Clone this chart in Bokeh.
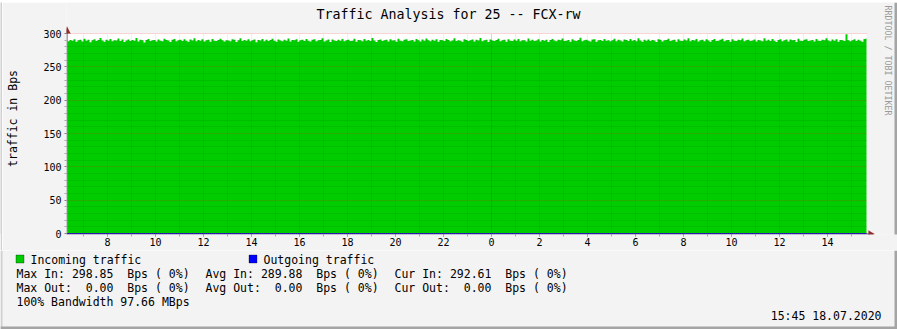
import math
from bokeh.plotting import figure
from bokeh.layouts import column, row
from bokeh.models import FixedTicker, Label, BoxAnnotation, PolyAnnotation, Range1d, Grid
from bokeh.embed import file_html
from bokeh.resources import INLINE

TITLE = "Traffic Analysis for 25 -- FCX-rw"
Y_LABEL = "traffic in Bps"
WATERMARK = "RRDTOOL / TOBI OETIKER"
TIMESTAMP = "15:45 18.07.2020"

# time in hours relative to 00:00 on 18.07.2020
START_HOUR = -17.0 - 40.0 / 60.0   # 06:20 on 17.07
STEP_HOURS = 5.0 / 60.0            # 5 minute samples

IN_VALUES = [
    288.4, 290.1, 289.2, 291.5, 287.6, 289.9, 290.8, 288.1, 292.3, 289.0, 290.5, 286.9, 289.7, 291.2, 288.8, 290.3, 293.1, 289.4, 287.8, 290.6,
    289.1, 291.8, 288.3, 290.0, 289.6, 292.4, 288.7, 290.9, 287.2, 289.5, 291.0, 288.6, 290.2, 289.3, 293.4, 288.0, 290.7, 289.8, 286.5, 290.4,
    291.6, 288.9, 289.7, 290.3, 287.9, 291.1, 289.2, 288.5, 292.0, 290.1, 289.4, 287.3, 290.8, 291.7, 288.2, 289.9, 290.5, 288.7, 291.3, 289.0,
    287.7, 290.9, 289.5, 292.8, 288.4, 290.2, 289.1, 291.4, 288.0, 289.8, 290.6, 287.5, 291.9, 289.3, 288.6, 290.4, 292.2, 289.7, 288.1, 290.0,
    289.6, 288.3, 291.2, 290.7, 287.4, 289.9, 293.0, 288.8, 290.3, 289.2, 291.5, 288.5, 289.7, 290.9, 287.0, 290.1, 289.4, 291.8, 288.2, 290.6,
    288.9, 290.4, 292.1, 289.0, 287.8, 291.0, 289.5, 288.4, 290.8, 289.3, 292.6, 288.1, 290.2, 289.7, 291.3, 287.6, 289.8, 290.5, 288.7, 291.7,
    289.2, 287.9, 290.6, 291.4, 288.5, 289.9, 290.3, 292.9, 288.0, 289.6, 290.9, 287.2, 291.1, 289.4, 288.8, 290.7, 289.1, 291.9, 288.3, 290.0,
    290.8, 288.6, 289.3, 292.3, 287.7, 290.4, 289.8, 288.2, 291.6, 289.0, 290.2, 288.9, 293.2, 289.5, 287.4, 290.1, 291.0, 288.7, 289.9, 290.6,
    288.1, 291.3, 289.6, 290.0, 287.5, 292.0, 289.2, 288.4, 290.7, 291.5, 288.8, 289.4, 290.3, 287.9, 291.8, 289.7, 288.0, 290.9, 289.1, 292.5,
    289.8, 288.2, 290.5, 289.3, 291.2, 287.6, 290.1, 289.9, 288.6, 291.7, 290.4, 288.3, 289.5, 292.7, 288.9, 290.0, 289.2, 287.8, 291.4, 290.2,
    288.7, 289.9, 291.1, 288.0, 290.6, 289.4, 293.3, 288.5, 289.7, 290.8, 287.3, 291.0, 289.6, 288.9, 290.3, 292.1, 288.4, 289.8, 290.5, 287.7,
    291.5, 289.1, 288.6, 290.9, 289.3, 291.9, 288.2, 290.0, 289.7, 287.9, 292.4, 289.0, 290.7, 288.8, 289.5, 291.3, 288.1, 290.4, 289.2, 290.8,
    287.4, 290.2, 291.6, 289.5, 288.3, 290.6, 289.9, 292.6, 288.7, 289.1, 290.3, 287.8, 291.2, 289.6, 288.9, 290.1, 293.5, 288.4, 289.8, 290.7,
    289.3, 288.0, 290.9, 291.4, 287.6, 289.7, 290.4, 288.6, 291.8, 289.2, 290.0, 288.5, 289.9, 292.2, 288.2, 290.5, 289.4, 287.9, 291.1, 290.3,
    288.8, 291.7, 289.0, 290.2, 288.4, 292.8, 289.6, 287.7, 290.6, 289.3, 291.0, 288.9, 290.1, 289.5, 287.3, 291.5, 290.8, 288.1, 289.7, 290.4,
    292.0, 288.6, 289.8, 290.5, 287.8, 291.3, 289.1, 288.7, 290.9, 289.4, 293.0, 288.3, 290.2, 289.6, 291.6, 288.0, 289.9, 290.7, 288.5, 291.2,
    289.5, 287.5, 290.3, 291.9, 288.9, 289.2, 290.6, 292.3, 288.2, 289.8, 290.1, 287.6, 291.4, 289.0, 288.6, 290.8, 289.7, 292.5, 288.4, 290.0,
    290.7, 288.8, 289.4, 291.1, 287.9, 290.4, 289.6, 288.3, 292.9, 289.1, 290.5, 288.7, 291.8, 289.3, 287.2, 290.2, 291.5, 288.5, 289.9, 290.9,
    288.0, 291.0, 289.7, 290.1, 287.4, 292.1, 289.3, 288.6, 290.8, 291.3, 288.9, 289.5, 290.4, 288.1, 291.7, 289.2, 288.7, 290.6, 289.8, 292.7,
    289.6, 288.4, 290.9, 289.0, 291.4, 287.7, 290.3, 289.9, 288.8, 298.9, 290.0, 288.2, 289.7, 291.3, 288.6, 290.5, 289.1, 287.8, 291.6, 292.6,
]
OUT_VALUES = [0.0] * len(IN_VALUES)

X_TICKS = [-16, -14, -12, -10, -8, -6, -4, -2, 0, 2, 4, 6, 8, 10, 12, 14]
X_TICK_LABELS = ["8", "10", "12", "14", "16", "18", "20", "22", "0", "2", "4", "6", "8", "10", "12", "14"]
X_MINOR = list(range(-17, 16))
X_MAJOR_GRID = [0]
Y_TICKS = [0, 50, 100, 150, 200, 250, 300]
Y_MINOR = [10, 20, 30, 40, 60, 70, 80, 90, 110, 120, 130, 140, 160, 170, 180, 190, 210, 220, 230, 240, 260, 270, 280, 290]

LEGEND_IN = "Incoming traffic"
LEGEND_OUT = "Outgoing traffic"
STATS_IN = ["Max In: 298.85  Bps ( 0%)", "Avg In: 289.88  Bps ( 0%)", "Cur In: 292.61  Bps ( 0%)"]
STATS_OUT = ["Max Out:  0.00  Bps ( 0%)", "Avg Out:  0.00  Bps ( 0%)", "Cur Out:  0.00  Bps ( 0%)"]
BANDWIDTH = "100% Bandwidth 97.66 MBps"

# ---- layout constants (page pixels) ----
W, H = 897, 329
DL, DR, DT, DB = 67, 866, 33, 233       # data area
FRAME_L, FRAME_B = 66, 234              # main frame left / bottom
MAIN_TOP, MAIN_BOTTOM = 2, 250          # main figure spans these page rows
PX_PER_HOUR = 24.0
UNITS_PER_PX = 300.0 / (DB - DT)
BG = "#F3F3F3"
EDGE_LIGHT = "#D0D0D0"
EDGE_DARK = "#A4A4A4"
GREEN = "#00CC00"
BLUE = "#0000FF"
AXIS_COL = "#555555"
XAXIS_COL = "#22226E"
ARROW_COL = "#922B2B"
FONT = "DejaVu Sans Mono"

HAS_CROSS = "cross_bounds" in Grid.properties()


def keep_spaces(s):
    return s.replace(" ", "\u00a0")


def strip(w, h, color):
    f = figure(width=w, height=h, output_backend="svg", toolbar_location=None,
               min_border=0, x_axis_type=None, y_axis_type=None)
    f.background_fill_color = color
    f.border_fill_color = color
    f.outline_line_color = None
    f.grid.visible = False
    return f


x_lo = START_HOUR - (DL - FRAME_L) / PX_PER_HOUR
x_hi = START_HOUR + (W - DL) / PX_PER_HOUR
y_lo = -(FRAME_B - DB) * UNITS_PER_PX
y_hi = (DB - MAIN_TOP) * UNITS_PER_PX
x_data_end = START_HOUR + (DR - DL) / PX_PER_HOUR

p = figure(width=W - 2, height=MAIN_BOTTOM - MAIN_TOP, output_backend="svg", toolbar_location=None,
           x_range=Range1d(x_lo, x_hi), y_range=Range1d(y_lo, y_hi),
           min_border_left=FRAME_L - 2, min_border_right=0, min_border_top=0,
           min_border_bottom=MAIN_BOTTOM - FRAME_B)
p.background_fill_color = BG
p.border_fill_color = BG
p.outline_line_color = None


def text(fig, fl, fb, txt, cx, cy, size, align="left", color="#000000", angle=0.0, level="annotation"):
    fig.add_layout(Label(x=cx - fl, y=fb - cy, x_units="screen", y_units="screen", text=keep_spaces(txt),
                         text_font=FONT, text_font_size=f"{size}px", text_color=color,
                         text_align=align, text_baseline="middle", angle=angle, level=level))


def rect(fig, fl, fb, cx0, cy0, cx1, cy1, fill, line=None, level="overlay"):
    fig.add_layout(BoxAnnotation(left=cx0 - fl, right=cx1 - fl, top=fb - cy0, bottom=fb - cy1,
                                 left_units="screen", right_units="screen",
                                 top_units="screen", bottom_units="screen",
                                 fill_color=fill, fill_alpha=1.0,
                                 line_color=line, line_width=1, level=level))


def poly(fig, fl, fb, pts, color):
    fig.add_layout(PolyAnnotation(xs=[c[0] - fl for c in pts], ys=[fb - c[1] for c in pts],
                                  xs_units="screen", ys_units="screen",
                                  fill_color=color, fill_alpha=1.0, line_color=color,
                                  line_width=0.5, level="overlay"))


# white canvas of the data area
rect(p, FRAME_L, FRAME_B, DL, DT, DR, DB, "#FFFFFF", level="underlay")

# data
xs = [START_HOUR + i * STEP_HOURS for i in range(len(IN_VALUES))] + [x_data_end]
p.varea_step(x=xs, y1=[0] * len(xs), y2=IN_VALUES + [IN_VALUES[-1]], step_mode="after",
             fill_color=GREEN)
p.line(x=xs, y=OUT_VALUES + [OUT_VALUES[-1]], line_color=BLUE, line_width=1)

# grids (drawn over the area, as rrdtool does)
p.ygrid.ticker = FixedTicker(ticks=Y_TICKS, minor_ticks=Y_MINOR)
p.ygrid.grid_line_color = "#FF0000"
p.ygrid.grid_line_alpha = 0.3
p.ygrid.grid_line_dash = "1 1"
p.ygrid.minor_grid_line_color = "#000000"
p.ygrid.minor_grid_line_alpha = 0.13
p.ygrid.minor_grid_line_dash = "1 1"
p.ygrid.level = "overlay"
p.xgrid.ticker = FixedTicker(ticks=X_MINOR)
p.xgrid.grid_line_color = "#000000"
p.xgrid.grid_line_alpha = 0.12
p.xgrid.grid_line_dash = "1 1"
p.xgrid.level = "overlay"
day_grid = Grid(dimension=0, ticker=FixedTicker(ticks=X_MAJOR_GRID), grid_line_color="#FF0000",
                grid_line_alpha=0.3, grid_line_dash="1 1", level="overlay")
p.add_layout(day_grid)
if HAS_CROSS:
    p.ygrid.cross_bounds = (START_HOUR, x_data_end)
    p.xgrid.cross_bounds = (0, 300)
    day_grid.cross_bounds = (0, 300)

# axes (lines drawn separately so they stop at the arrows)
p.yaxis.ticker = FixedTicker(ticks=Y_TICKS, minor_ticks=Y_MINOR)
p.xaxis.ticker = FixedTicker(ticks=X_TICKS, minor_ticks=X_MINOR)
p.xaxis.major_label_overrides = {t: l for t, l in zip(X_TICKS, X_TICK_LABELS)}
for ax in (p.xaxis[0], p.yaxis[0]):
    ax.axis_line_color = None
    ax.major_label_text_font = FONT
    ax.major_label_text_font_size = "10px"
    ax.major_label_text_color = "#000000"
    ax.major_tick_in = 0
    ax.major_tick_out = 2
    ax.minor_tick_in = 0
    ax.minor_tick_out = 2
    ax.major_tick_line_color = "#808080"
    ax.minor_tick_line_color = "#A8A8A8"
p.yaxis.major_label_standoff = 3
p.xaxis.major_label_standoff = 1
p.yaxis.axis_label = Y_LABEL
p.yaxis.axis_label_text_font = FONT
p.yaxis.axis_label_text_font_size = "11.5px"
p.yaxis.axis_label_text_font_style = "normal"
p.yaxis.axis_label_text_color = "#000000"
p.yaxis.axis_label_standoff = 20

if not HAS_CROSS:
    # mask grid lines outside the data area
    rect(p, FRAME_L, FRAME_B, FRAME_L, MAIN_TOP, W, DT, BG)
    rect(p, FRAME_L, FRAME_B, DR, DT, W, FRAME_B, BG)

# axis lines and arrows
rect(p, FRAME_L, FRAME_B, FRAME_L, 29, FRAME_L + 1, DB + 1, AXIS_COL)
rect(p, FRAME_L, FRAME_B, FRAME_L, DB, DR + 3, DB + 1, XAXIS_COL)
poly(p, FRAME_L, FRAME_B, [(63.0, 33.0), (70.0, 33.0), (66.5, 26.0)], ARROW_COL)
poly(p, FRAME_L, FRAME_B, [(868.0, 230.0), (868.0, 237.0), (874.0, 233.5)], ARROW_COL)
rect(p, FRAME_L, FRAME_B, W - 3, MAIN_TOP, W, MAIN_BOTTOM, EDGE_DARK)

# texts in the upper area
text(p, FRAME_L, FRAME_B, TITLE, 448, 14, 13.3, align="center", level="overlay")
text(p, FRAME_L, FRAME_B, WATERMARK, 887, 60, 8.3, align="center", color="#9A9A9A",
     angle=-math.pi / 2, level="overlay")

# legend figure
lg = figure(width=W, height=H - MAIN_BOTTOM, output_backend="svg", toolbar_location=None,
            min_border=0, x_axis_type=None, y_axis_type=None,
            x_range=Range1d(0, W), y_range=Range1d(0, H - MAIN_BOTTOM))
lg.background_fill_color = BG
lg.border_fill_color = BG
lg.outline_line_color = None
lg.grid.visible = False
LB = H  # bottom of legend frame in page pixels
rect(lg, 0, LB, 15.5, 254.5, 23.5, 262.5, GREEN, "#000000")
text(lg, 0, LB, LEGEND_IN, 30, 259, 11.5)
rect(lg, 0, LB, 248.5, 254.5, 256.5, 262.5, BLUE, "#000000")
text(lg, 0, LB, LEGEND_OUT, 263, 259, 11.5)
for i, s in enumerate(STATS_IN):
    text(lg, 0, LB, s, 16 + 189 * i, 273, 11.5)
for i, s in enumerate(STATS_OUT):
    text(lg, 0, LB, s, 16 + 189 * i, 287, 11.5)
text(lg, 0, LB, BANDWIDTH, 16, 301, 11.5)
text(lg, 0, LB, TIMESTAMP, 881, 315, 11.5, align="right")
rect(lg, 0, LB, 0, MAIN_BOTTOM, 2, H, EDGE_LIGHT)
rect(lg, 0, LB, 0, H - 3, W, H, EDGE_DARK)
rect(lg, 0, LB, W - 3, MAIN_BOTTOM, W, H, EDGE_DARK)

top_strip = strip(W, 2, EDGE_LIGHT)
left_strip = strip(2, MAIN_BOTTOM - MAIN_TOP, EDGE_LIGHT)

layout = column(top_strip, row(left_strip, p, spacing=0), lg, spacing=0)
open("out.html", "w").write(file_html(layout, INLINE))
